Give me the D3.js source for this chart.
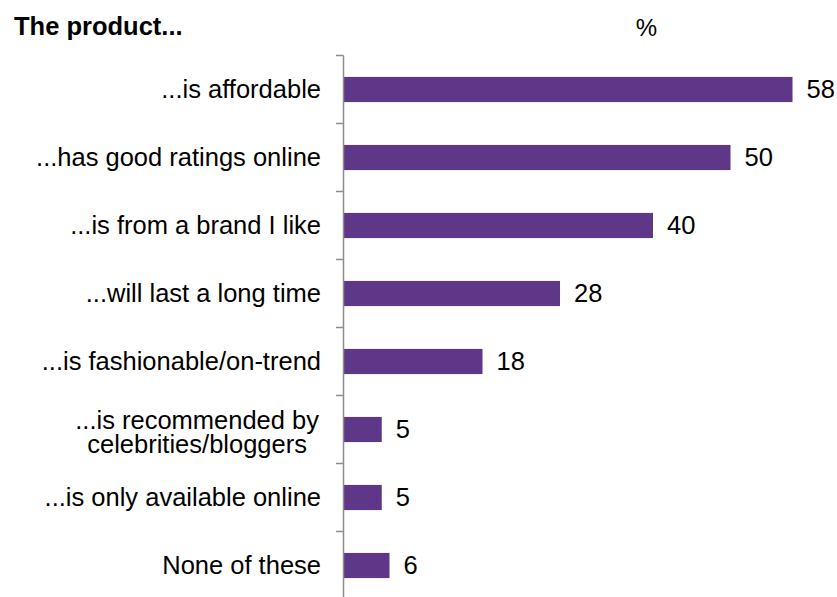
<!DOCTYPE html>
<html>
<head>
<meta charset="utf-8">
<script src="https://cdn.jsdelivr.net/npm/d3@7"></script>
<style>
  body { margin: 0; background: #fff; }
  svg { display: block; font-family: "Liberation Sans", Arial, sans-serif; }
</style>
</head>
<body>
<svg id="chart" width="837" height="597"></svg>
<script>
// Share of respondents citing each reason (%)
const categories = [
  "...is affordable",
  "...has good ratings online",
  "...is from a brand I like",
  "...will last a long time",
  "...is fashionable/on-trend",
  "...is recommended by\ncelebrities/bloggers",
  "...is only available online",
  "None of these"
];
const values = [58, 50, 40, 28, 18, 5, 5, 6];
const titleText = "The product...";
const unitText = "%";

const svg = d3.select("#chart");
const axisX = 343;
const plotTop = 55.5;
const step = 68;
const fontSize = 25.5;

const y = d3.scaleBand()
  .domain(categories)
  .range([plotTop, plotTop + step * categories.length])
  .paddingInner(0.63)
  .paddingOuter(0.315);

const x = d3.scaleLinear().domain([0, 58]).range([axisX, axisX + 449.5]);

// bars
svg.append("g").selectAll("rect")
  .data(values)
  .join("rect")
  .attr("x", x(0))
  .attr("y", (d, i) => y(categories[i]))
  .attr("width", d => x(d) - x(0))
  .attr("height", y.bandwidth())
  .attr("fill", "#5f3789");

// value labels
svg.append("g").selectAll("text")
  .data(values)
  .join("text")
  .attr("x", d => x(d) + 14)
  .attr("y", (d, i) => y(categories[i]) + y.bandwidth() / 2)
  .attr("dy", "0.35em")
  .attr("font-size", fontSize)
  .attr("fill", "#000")
  .text(d => d);

// category axis line with ticks at band boundaries
const axisG = svg.append("g");
axisG.append("line")
  .attr("x1", axisX + 0.5).attr("x2", axisX + 0.5)
  .attr("y1", plotTop).attr("y2", 597)
  .attr("stroke", "#8c8c8c").attr("stroke-width", 1.5);
const bounds = d3.range(categories.length).map(i => plotTop + i * step);
axisG.selectAll("line.tick")
  .data(bounds)
  .join("line")
  .attr("class", "tick")
  .attr("x1", axisX - 7).attr("x2", axisX + 0.5)
  .attr("y1", d => d).attr("y2", d => d)
  .attr("stroke", "#8c8c8c").attr("stroke-width", 1.5);

// category labels: right aligned block, wrapped lines centred on each other
const labelRight = axisX - 22;
const lineGap = 24;
svg.append("g").selectAll("text")
  .data(categories)
  .join("text")
  .attr("font-size", fontSize)
  .attr("fill", "#000")
  .each(function (d) {
    const lines = d.split("\n");
    const t = d3.select(this);
    const cy = y(d) + y.bandwidth() / 2;
    if (lines.length === 1) {
      t.attr("text-anchor", "end")
        .attr("x", labelRight).attr("y", cy).attr("dy", "0.35em")
        .text(d);
      return;
    }
    // measure to centre the lines within a right-aligned block
    const spans = lines.map((ln, k) => t.append("tspan")
      .attr("y", cy + 3 + (k - (lines.length - 1) / 2) * lineGap)
      .attr("dy", "0.35em")
      .text(ln));
    const widths = spans.map(s => s.node().getComputedTextLength());
    const w = d3.max(widths) + 4;
    spans.forEach(s => s.attr("text-anchor", "middle").attr("x", labelRight - w / 2));
  });

// title and unit
svg.append("text")
  .attr("x", 14).attr("y", 35)
  .attr("font-size", fontSize).attr("font-weight", "bold")
  .text(titleText);
svg.append("text")
  .attr("x", 646.5).attr("y", 36)
  .attr("text-anchor", "middle")
  .attr("font-size", 24)
  .text(unitText);
</script>
</body>
</html>
